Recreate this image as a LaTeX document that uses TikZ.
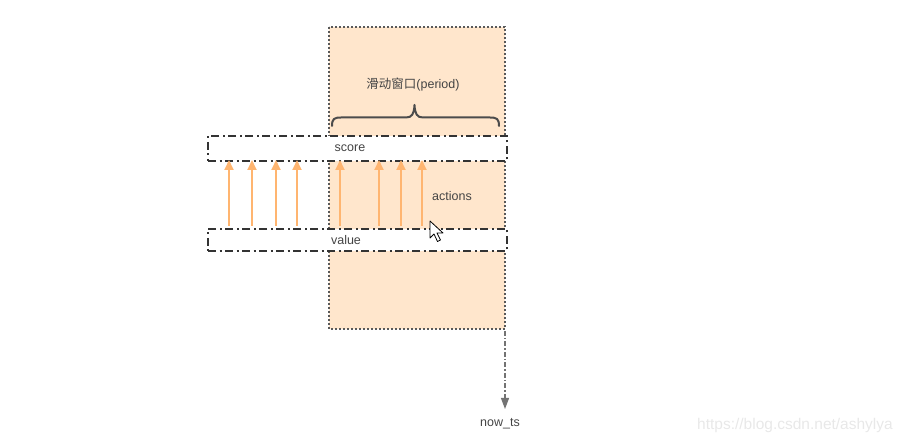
\documentclass[tikz,border=0pt]{standalone}
\usepackage{fontspec}
\setmainfont{Liberation Sans}
\newfontfamily\cjk{Noto Sans CJK SC}
\usetikzlibrary{arrows.meta}
\definecolor{winfill}{HTML}{FFE6CC}
\definecolor{arr}{HTML}{FFB570}
\definecolor{txt}{HTML}{444444}
\begin{document}
\begin{tikzpicture}[x=1pt,y=-1pt,
  rowbox/.style={draw=black!80,line width=2pt,fill=white,dash pattern=on 8pt off 3.5pt on 2pt off 3.5pt},
  act/.style={draw=arr,line width=1.8pt,-{Triangle[length=10pt,width=9pt]}},
  lbl/.style={font=\fontsize{12.5}{14}\selectfont,text=txt,inner sep=0pt}]
\useasboundingbox (0,0) rectangle (906,443);
% window
\draw[fill=winfill,draw=black!65,line width=2pt,dash pattern=on 2pt off 2pt] (329,27) rectangle (505,329);
% rows
\node[rowbox,minimum width=299pt,minimum height=25pt,inner sep=0pt,anchor=north west] (score) at (207,135) {};
\node[lbl] at (350,148) {score};
\node[rowbox,minimum width=299pt,minimum height=22pt,inner sep=0pt,anchor=north west] (value) at (207,228) {};
\node[lbl] at (346,240) {value};
% arrows
\foreach \x in {229,252,276,297,340,379,401,422}{
  \draw[act] (\x,226) -- (\x,160);
}
\node[lbl] at (452,196) {actions};
% brace
\draw[draw=black!70,line width=2pt,line cap=round,line join=round]
  (332,126) .. controls (332,119) and (334,117.5) .. (341,117.5) -- (406,117.5)
  .. controls (412,117.5) and (414,114) .. (414.5,105)
  .. controls (415,114) and (417,117.5) .. (423,117.5) -- (490,117.5)
  .. controls (497,117.5) and (499,119) .. (499,126);
\node[lbl] (period) at (413,85) {{\cjk 滑动窗口}(period)};
% now_ts
\coordinate (bot) at (505,331);
\node[lbl] (now) at (500,424) {now\_ts};
\draw[draw=black!55,line width=1.2pt,dash pattern=on 5pt off 2pt on 1.5pt off 2pt,-{Triangle[length=11pt,width=8pt]}] (bot) -- (505,409);
% cursor
\draw[fill=white,draw=black,line width=0.8pt,line join=round] (430,221) -- (430,238) -- (434,234) -- (437.5,241.5) -- (440.5,240) -- (437,233) -- (443,233) -- cycle;
% watermark
\node[lbl,text=black!9,font=\fontsize{15.5}{17}\selectfont] at (795,425) {https://blog.csdn.net/ashylya};
\end{tikzpicture}
\end{document}
